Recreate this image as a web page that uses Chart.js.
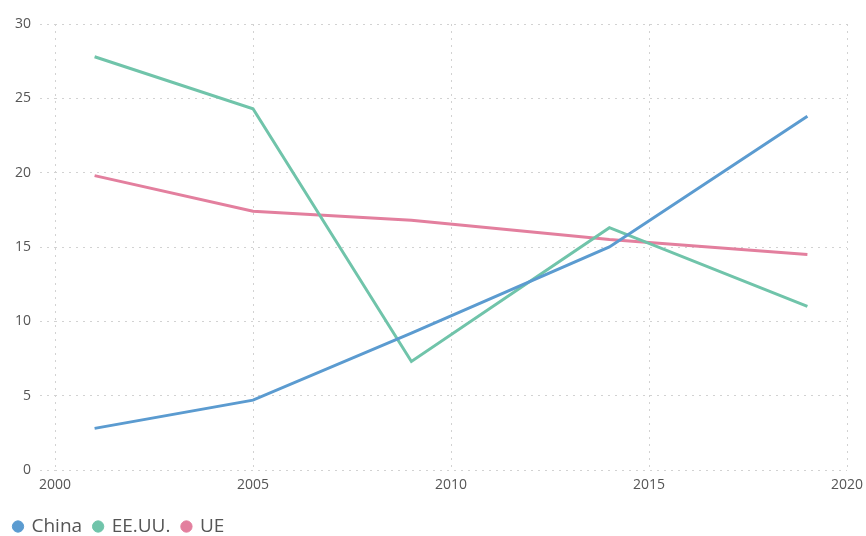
<!DOCTYPE html>
<html>
<head>
<meta charset="utf-8">
<script src="https://cdn.jsdelivr.net/npm/chart.js@4.4.0/dist/chart.umd.min.js"></script>
<style>
  html, body { margin: 0; padding: 0; background: #fff; }
  #wrap { width: 866px; height: 536px; }
</style>
</head>
<body>
<div id="wrap"><canvas id="chart" width="866" height="536"></canvas></div>
<script>
// years of each observation
const years = [2001, 2005, 2009, 2014, 2019];
const china = [2.8, 4.7, 9.2, 15.0, 23.8];
const eeuu  = [27.8, 24.3, 7.3, 16.3, 11.0];
const ue    = [19.8, 17.4, 16.8, 15.5, 14.5];
const xTicks = [2000, 2005, 2010, 2015, 2020];
const yTicks = [0, 5, 10, 15, 20, 25, 30];

const toPoints = vals => years.map((yr, i) => ({ x: yr, y: vals[i] }));

const gridStyle = {
    color: '#d2d2d2',
    lineWidth: 1,
    tickBorderDash: [2, 5],
    tickColor: '#d2d2d2'
};
const borderStyle = { display: false, dash: [2, 5] };

new Chart(document.getElementById('chart'), {
    type: 'line',
    data: {
        datasets: [
            { label: 'China',  data: toPoints(china), borderColor: '#5B9BD0', backgroundColor: '#5B9BD0' },
            { label: 'EE.UU.', data: toPoints(eeuu),  borderColor: '#70C4AA', backgroundColor: '#70C4AA' },
            { label: 'UE',     data: toPoints(ue),    borderColor: '#E37F9E', backgroundColor: '#E37F9E' }
        ]
    },
    options: {
        responsive: false,
        animation: false,
        layout: { padding: { top: 24, right: 19, left: 2, bottom: -10 } },
        elements: {
            line: { borderWidth: 3, tension: 0 },
            point: { radius: 0, hoverRadius: 0 }
        },
        plugins: {
            legend: {
                position: 'bottom',
                align: 'start',
                labels: {
                    usePointStyle: true,
                    pointStyle: 'circle',
                    boxWidth: 8,
                    boxHeight: 8,
                    padding: 12,
                    color: '#555',
                    font: { family: "'Open Sans', sans-serif", size: 19 }
                }
            },
            tooltip: { enabled: false }
        },
        scales: {
            x: {
                type: 'linear',
                min: 2000,
                max: 2020,
                afterBuildTicks: axis => { axis.ticks = xTicks.map(v => ({ value: v })); },
                afterFit: axis => { axis.height = 35; axis.paddingRight = 0; axis.paddingLeft = 0; },
                grid: Object.assign({}, gridStyle, { drawTicks: false }),
                border: borderStyle,
                ticks: {
                    padding: 7,
                    color: '#555',
                    font: { family: "'Open Sans', sans-serif", size: 14 },
                    callback: v => String(v)
                }
            },
            y: {
                min: 0,
                max: 30,
                afterBuildTicks: axis => { axis.ticks = yTicks.map(v => ({ value: v })); },
                afterFit: axis => { axis.width = 53; },
                grid: Object.assign({}, gridStyle, { tickLength: 15 }),
                border: borderStyle,
                ticks: {
                    padding: 9,
                    color: '#555',
                    font: { family: "'Open Sans', sans-serif", size: 14 }
                }
            }
        }
    }
});
</script>
</body>
</html>
